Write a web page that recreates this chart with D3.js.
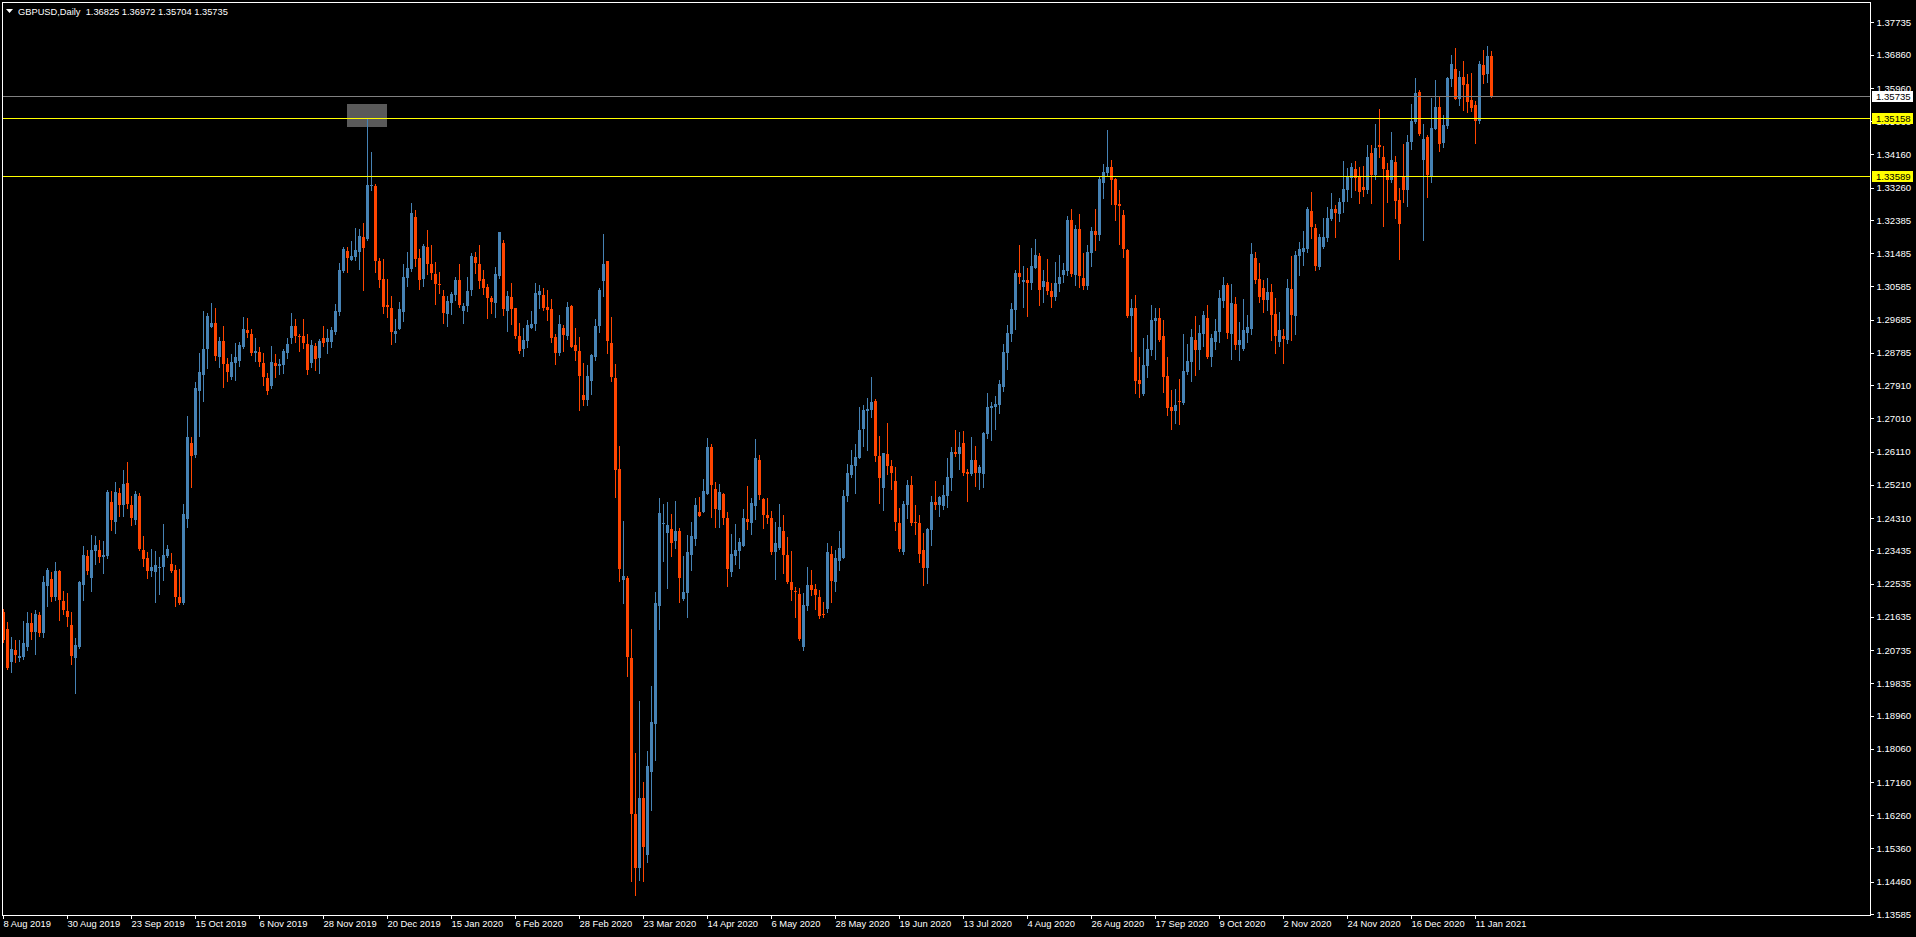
<!DOCTYPE html>
<html><head><meta charset="utf-8">
<script src="https://cdn.jsdelivr.net/npm/d3@7"></script>
<style>html,body{margin:0;padding:0;background:#000;overflow:hidden}svg{display:block}</style>
</head><body>
<svg id="c" width="1916" height="937"></svg>
<script>
// ---- data ----
const symbol = "GBPUSD,Daily";
const lastBar = [1.36825, 1.36972, 1.35704, 1.35735];
const dateLabels = ["8 Aug 2019","30 Aug 2019","23 Sep 2019","15 Oct 2019","6 Nov 2019","28 Nov 2019","20 Dec 2019","15 Jan 2020","6 Feb 2020","28 Feb 2020","23 Mar 2020","14 Apr 2020","6 May 2020","28 May 2020","19 Jun 2020","13 Jul 2020","4 Aug 2020","26 Aug 2020","17 Sep 2020","9 Oct 2020","2 Nov 2020","24 Nov 2020","16 Dec 2020","11 Jan 2021"];
const dateLabelBars = [0,16,32,48,64,80,96,112,128,144,160,176,192,208,224,240,256,272,288,304,320,336,352,368];
const priceTicks = [1.37735,1.36860,1.35960,1.35060,1.34160,1.33260,1.32385,1.31485,1.30585,1.29685,1.28785,1.27910,1.27010,1.26110,1.25210,1.24310,1.23435,1.22535,1.21635,1.20735,1.19835,1.18960,1.18060,1.17160,1.16260,1.15360,1.14460,1.13585];
const bidPrice = 1.35735;
const levelPrices = [1.35158, 1.33589];
const boxBars = [86, 96];
const boxPrices = [1.3553, 1.3490];

const opens = [1.2177,1.2130,1.2041,1.2074,1.2053,1.2054,1.2082,1.2147,1.2123,1.2168,1.2120,1.2248,1.2266,1.2217,1.2288,1.2206,1.2179,1.2141,1.2052,1.2082,1.2250,1.2328,1.2269,1.2342,1.2344,1.2326,1.2328,1.2474,1.2420,1.2499,1.2466,1.2526,1.2466,1.2426,1.2491,1.2344,1.2323,1.2288,1.2285,1.2296,1.2298,1.2328,1.2307,1.2290,1.2217,1.2201,1.2428,1.2634,1.2602,1.2775,1.2818,1.2889,1.2949,
1.2959,1.2867,1.2911,1.2848,1.2813,1.2851,1.2856,1.2894,1.2940,1.2930,1.2878,1.2881,1.2851,1.2810,1.2789,1.2851,1.2843,1.2846,1.2878,1.2919,1.2951,1.2924,1.2924,1.2903,1.2851,1.2897,1.2865,1.2919,1.2908,1.2908,1.2935,1.2989,1.3100,1.3154,1.3130,1.3138,1.3152,1.3192,1.3187,1.3331,1.3331,1.3127,1.3079,1.3008,1.3000,1.2930,1.2943,1.2989,1.3081,1.3106,1.3247,1.3135,1.3079,
1.3165,1.3119,1.3093,1.3064,1.3033,1.2985,1.3014,1.3035,1.3075,1.2991,1.3005,1.3048,1.3138,1.3119,1.3079,1.3056,1.3028,1.3014,1.3086,1.3175,1.2991,1.3030,1.2999,1.2924,1.2889,1.2912,1.2947,1.2957,1.3034,1.3035,1.3003,1.2997,1.2921,1.2879,1.2946,1.2924,1.3005,1.2899,1.2883,1.2765,1.2752,1.2802,1.2867,1.2951,1.3073,1.3127,1.2905,1.2811,1.2564,1.2264,1.2269,1.2052,1.1629,1.1484,
1.1673,1.1519,1.1742,1.1872,1.2194,1.2415,1.2391,1.2402,1.2370,1.2396,1.2212,1.2229,1.2331,1.2374,1.2447,1.2447,1.2497,1.2624,1.2510,1.2453,1.2497,1.2432,1.2285,1.2328,1.2342,1.2356,1.2429,1.2418,1.2464,1.2588,1.2483,1.2439,1.2432,1.2339,1.2350,1.2396,1.2331,1.2258,1.2234,1.2226,1.2082,1.2194,1.2250,1.2240,1.2218,1.2172,1.2186,1.2334,1.2258,1.2315,1.2323,1.2491,1.2548,
1.2572,1.2594,1.2672,1.2721,1.2724,1.2748,1.2599,1.2512,1.2605,1.2572,1.2531,1.2418,1.2339,1.2466,1.2521,1.2420,1.2418,1.2344,1.2296,1.2399,1.2474,1.2466,1.2464,1.2491,1.2540,1.2610,1.2605,1.2634,1.2556,1.2550,1.2588,1.2553,1.2550,1.2659,1.2729,1.2732,1.2737,1.2786,1.2878,1.2930,1.2995,1.3095,1.3070,1.3076,1.3068,1.3108,1.3141,1.3057,1.3070,1.3046,1.3030,1.3065,1.3089,
1.3100,1.3239,1.3090,1.3214,1.3081,1.3060,1.3149,1.3209,1.3198,1.3339,1.3366,1.3382,1.3350,1.3282,1.3252,1.3157,1.2978,1.3000,1.2805,1.2767,1.2843,1.2886,1.2965,1.2973,1.2924,1.2816,1.2732,1.2721,1.2748,1.2743,1.2827,1.2854,1.2913,1.2886,1.2930,1.2973,1.2867,1.2908,1.2935,1.3019,1.3062,1.2930,1.3011,1.2900,1.2889,1.2932,1.2943,1.3135,1.3079,1.3054,1.3022,1.3043,1.2984,
1.2908,1.2924,1.2913,1.3052,1.2978,1.3141,1.3152,1.3160,1.3263,1.3217,1.3111,1.3165,1.3190,1.3241,1.3268,1.3255,1.3287,1.3320,1.3352,1.3377,1.3355,1.3328,1.3320,1.3420,1.3360,1.3442,1.3409,1.3374,1.3347,1.3396,1.3293,1.3358,1.3320,1.3450,1.3504,1.3585,1.3401,1.3463,1.3355,1.3485,1.3545,1.3447,1.3493,1.3620,1.3648,1.3566,1.3626,1.3607,1.3564,1.3550,1.3507,1.3658,1.3634,1.36825];
const highs = [1.2184,1.2149,1.2109,1.2101,1.2102,1.2152,1.2176,1.2174,1.2182,1.2176,1.2274,1.2295,1.2286,1.2312,1.2290,1.2233,1.2228,1.2176,1.2106,1.2260,1.2355,1.2344,1.2385,1.2382,1.2372,1.2369,1.2507,1.2504,1.2529,1.2512,1.2561,1.2583,1.2491,1.2504,1.2499,1.2382,1.2339,1.2347,1.2342,1.2326,1.2415,1.2358,1.2336,1.2304,1.2293,1.2469,1.2708,1.2651,1.2800,1.2878,1.2992,1.2987,1.3014,
1.3000,1.2922,1.2951,1.2865,1.2875,1.2905,1.2908,1.2976,1.2973,1.2943,1.2919,1.2894,1.2878,1.2824,1.2897,1.2875,1.2862,1.2889,1.2919,1.2987,1.2970,1.2930,1.2970,1.2930,1.2913,1.2905,1.2916,1.2951,1.2943,1.2949,1.3011,1.3122,1.3165,1.3165,1.3182,1.3217,1.3214,1.3230,1.3516,1.3423,1.3336,1.3135,1.3133,1.3079,1.3033,1.2970,1.3016,1.3119,1.3152,1.3285,1.3266,1.3160,1.3173,
1.3211,1.3171,1.3126,1.3097,1.3048,1.3033,1.3044,1.3083,1.3119,1.3014,1.3084,1.3150,1.3152,1.3172,1.3104,1.3064,1.3033,1.3112,1.3207,1.3184,1.3046,1.3069,1.3000,1.2959,1.2945,1.2967,1.2991,1.3069,1.3062,1.3054,1.3048,1.3025,1.2929,1.2981,1.2953,1.3017,1.3008,1.2946,1.2922,1.2850,1.2847,1.2875,1.2970,1.3054,1.3200,1.3127,1.2976,1.2848,1.2627,1.2424,1.2274,1.2131,1.1795,1.1935,
1.1717,1.1800,1.1977,1.2231,1.2486,1.2469,1.2475,1.2442,1.2478,1.2404,1.2328,1.2385,1.2421,1.2486,1.2489,1.2537,1.2648,1.2631,1.2529,1.2523,1.2500,1.2447,1.2388,1.2415,1.2377,1.2456,1.2518,1.2486,1.2645,1.2602,1.2486,1.2486,1.2450,1.2421,1.2469,1.2439,1.2380,1.2342,1.2244,1.2241,1.2229,1.2299,1.2291,1.2252,1.2237,1.2204,1.2364,1.2356,1.2345,1.2396,1.2507,1.2577,1.2616,
1.2633,1.2732,1.2737,1.2756,1.2813,1.2754,1.2653,1.2607,1.2689,1.2588,1.2569,1.2458,1.2477,1.2534,1.2545,1.2466,1.2439,1.2391,1.2404,1.2491,1.2531,1.2491,1.2521,1.2594,1.2623,1.2670,1.2664,1.2667,1.2564,1.2651,1.2626,1.2575,1.2664,1.2770,1.2745,1.2762,1.2805,1.2903,1.2954,1.3014,1.3103,1.3171,1.3114,1.3108,1.3163,1.3187,1.3149,1.3103,1.3133,1.3068,1.3125,1.3144,1.3122,
1.3249,1.3268,1.3225,1.3255,1.3149,1.3171,1.3219,1.3268,1.3358,1.3390,1.3482,1.3401,1.3352,1.3320,1.3265,1.3160,1.3024,1.3035,1.2867,1.2919,1.2927,1.3008,1.2999,1.2999,1.2968,1.2867,1.2778,1.2781,1.2808,1.2930,1.2902,1.2943,1.2978,1.2954,1.2992,1.3008,1.2930,1.2970,1.3049,1.3084,1.3068,1.3065,1.3030,1.2962,1.3024,1.2981,1.3176,1.3152,1.3122,1.3076,1.3081,1.3065,1.3027,
1.2989,1.2943,1.3079,1.3141,1.3154,1.3179,1.3209,1.3274,1.3314,1.3228,1.3201,1.3244,1.3274,1.3312,1.3279,1.3298,1.3398,1.3379,1.3393,1.3398,1.3382,1.3385,1.3442,1.3442,1.3499,1.3539,1.3439,1.3393,1.3477,1.3412,1.3325,1.3444,1.3469,1.3553,1.3623,1.3591,1.3499,1.3469,1.3569,1.3618,1.3572,1.3523,1.3626,1.3685,1.3704,1.3642,1.3669,1.3634,1.3637,1.3561,1.3669,1.3699,1.3710,1.36972];
const lows = [1.2096,1.2023,1.2014,1.2042,1.2045,1.2049,1.2074,1.2104,1.2063,1.2112,1.2110,1.2193,1.2206,1.2209,1.2155,1.2171,1.2139,1.2036,1.1958,1.2080,1.2209,1.2279,1.2233,1.2307,1.2312,1.2282,1.2323,1.2399,1.2391,1.2437,1.2437,1.2458,1.2412,1.2415,1.2344,1.2301,1.2269,1.2274,1.2204,1.2225,1.2263,1.2326,1.2285,1.2193,1.2198,1.2199,1.2407,1.2515,1.2597,1.2653,1.2748,1.2838,1.2949,
1.2859,1.2840,1.2786,1.2802,1.2808,1.2805,1.2843,1.2892,1.2922,1.2873,1.2856,1.2843,1.2791,1.2767,1.2783,1.2813,1.2821,1.2824,1.2865,1.2905,1.2908,1.2883,1.2892,1.2821,1.2840,1.2832,1.2824,1.2897,1.2878,1.2894,1.2930,1.2981,1.3098,1.3098,1.3130,1.3130,1.3106,1.3049,1.3185,1.3320,1.3098,1.3057,1.2987,1.2976,1.2903,1.2908,1.2943,1.2965,1.3060,1.3100,1.3114,1.3052,1.3060,
1.3092,1.3079,1.3011,1.3042,1.2959,1.2951,1.2984,1.3022,1.3003,1.2960,1.2993,1.3034,1.3095,1.3055,1.3039,1.2974,1.2986,1.2977,1.3080,1.2982,1.2939,1.2956,1.2919,1.2879,1.2871,1.2894,1.2946,1.2941,1.3000,1.2994,1.2968,1.2907,1.2849,1.2872,1.2883,1.2915,1.2894,1.2860,1.2725,1.2737,1.2738,1.2767,1.2860,1.2935,1.3033,1.2878,1.2803,1.2488,1.2260,1.2201,1.2002,1.1449,1.1409,1.1450,
1.1447,1.1500,1.1639,1.1777,1.2131,1.2315,1.2241,1.2328,1.2349,1.2204,1.2209,1.2164,1.2289,1.2359,1.2436,1.2447,1.2497,1.2434,1.2407,1.2407,1.2415,1.2247,1.2275,1.2306,1.2296,1.2356,1.2402,1.2388,1.2429,1.2483,1.2404,1.2418,1.2334,1.2266,1.2348,1.2283,1.2255,1.2209,1.2164,1.2101,1.2074,1.2183,1.2223,1.2186,1.2161,1.2164,1.2177,1.2204,1.2234,1.2291,1.2323,1.2478,1.2542,
1.2498,1.2594,1.2626,1.2615,1.2705,1.2586,1.2472,1.2453,1.2550,1.2510,1.2399,1.2342,1.2334,1.2431,1.2412,1.2388,1.2312,1.2250,1.2255,1.2358,1.2456,1.2436,1.2456,1.2461,1.2507,1.2599,1.2564,1.2548,1.2477,1.2548,1.2518,1.2510,1.2515,1.2648,1.2642,1.2672,1.2716,1.2775,1.2835,1.2911,1.2943,1.3068,1.3003,1.2978,1.3052,1.3108,1.3008,1.3016,1.3038,1.3003,1.3022,1.3046,1.3070,
1.3090,1.3088,1.3062,1.3057,1.3052,1.3052,1.3114,1.3157,1.3184,1.3298,1.3358,1.3282,1.3239,1.3173,1.3138,1.2975,1.2884,1.2770,1.2759,1.2765,1.2813,1.2873,1.2862,1.2911,1.2773,1.2710,1.2672,1.2689,1.2686,1.2741,1.2821,1.2802,1.2819,1.2835,1.2897,1.2865,1.2843,1.2889,1.2908,1.3003,1.2919,1.2862,1.2889,1.2859,1.2887,1.2908,1.2930,1.3068,1.3016,1.2989,1.2995,1.2913,1.2878,
1.2897,1.2851,1.2905,1.2913,1.2930,1.3089,1.3117,1.3152,1.3190,1.3103,1.3106,1.3163,1.3182,1.3238,1.3192,1.3236,1.3260,1.3290,1.3301,1.3320,1.3284,1.3304,1.3312,1.3284,1.3350,1.3409,1.3222,1.3287,1.3341,1.3244,1.3133,1.3287,1.3276,1.3431,1.3501,1.3469,1.3184,1.3301,1.3341,1.3485,1.3425,1.3436,1.3488,1.3601,1.3566,1.3550,1.3536,1.3531,1.3534,1.3447,1.3501,1.3610,1.3612,1.35704];
const closes = [1.2101,1.2025,1.2076,1.2060,1.2058,1.2093,1.2147,1.2123,1.2171,1.2120,1.2258,1.2290,1.2217,1.2288,1.2210,1.2182,1.2163,1.2057,1.2087,1.2258,1.2331,1.2288,1.2344,1.2358,1.2326,1.2331,1.2502,1.2426,1.2502,1.2466,1.2523,1.2469,1.2431,1.2496,1.2347,1.2320,1.2288,1.2298,1.2304,1.2298,1.2331,1.2347,1.2288,1.2217,1.2201,1.2442,1.2651,1.2599,1.2783,1.2827,1.2889,1.2978,1.2959,
1.2870,1.2911,1.2848,1.2827,1.2854,1.2867,1.2900,1.2943,1.2932,1.2878,1.2883,1.2854,1.2813,1.2775,1.2854,1.2843,1.2848,1.2883,1.2903,1.2951,1.2924,1.2922,1.2905,1.2832,1.2900,1.2862,1.2911,1.2905,1.2919,1.2940,1.2992,1.3103,1.3160,1.3135,1.3141,1.3157,1.3195,1.3163,1.3333,1.3333,1.3127,1.3076,1.3003,1.3003,1.2935,1.2938,1.2997,1.3084,1.3108,1.3257,1.3133,1.3076,1.3168,
1.3118,1.3094,1.3066,1.3062,1.2986,1.3019,1.3038,1.3075,1.3009,1.3006,1.3046,1.3141,1.3123,1.3072,1.3054,1.3026,1.3016,1.3092,1.3205,1.2997,1.3033,1.2997,1.2924,1.2883,1.2913,1.2954,1.2957,1.3040,1.3046,1.3000,1.2994,1.2919,1.2879,1.2957,1.2927,1.3003,1.2895,1.2883,1.2815,1.2751,1.2815,1.2872,1.2951,1.3049,1.3119,1.2912,1.2813,1.2560,1.2294,1.2274,1.2055,1.1629,1.1482,1.1673,
1.1539,1.1760,1.1879,1.2201,1.2445,1.2418,1.2413,1.2364,1.2396,1.2269,1.2231,1.2339,1.2382,1.2467,1.2436,1.2504,1.2624,1.2521,1.2456,1.2501,1.2432,1.2294,1.2334,1.2345,1.2367,1.2432,1.2421,1.2472,1.2594,1.2494,1.2439,1.2432,1.2339,1.2364,1.2407,1.2331,1.2258,1.2237,1.2231,1.2104,1.2196,1.2250,1.2237,1.2223,1.2166,1.2169,1.2339,1.2261,1.2323,1.2350,1.2491,1.2554,1.2575,
1.2596,1.2670,1.2724,1.2726,1.2745,1.2599,1.2540,1.2607,1.2572,1.2553,1.2420,1.2347,1.2469,1.2521,1.2418,1.2418,1.2334,1.2296,1.2401,1.2474,1.2466,1.2488,1.2493,1.2542,1.2610,1.2605,1.2623,1.2553,1.2550,1.2588,1.2553,1.2569,1.2661,1.2732,1.2735,1.2740,1.2794,1.2881,1.2932,1.2997,1.3095,1.3084,1.3076,1.3068,1.3114,1.3144,1.3049,1.3073,1.3046,1.3030,1.3068,1.3084,1.3103,
1.3239,1.3092,1.3214,1.3087,1.3060,1.3152,1.3209,1.3198,1.3350,1.3368,1.3382,1.3347,1.3279,1.3276,1.3160,1.2978,1.3000,1.2802,1.2794,1.2846,1.2889,1.2968,1.2973,1.2913,1.2813,1.2729,1.2721,1.2737,1.2745,1.2829,1.2857,1.2922,1.2886,1.2932,1.2981,1.2867,1.2919,1.2938,1.3027,1.3062,1.2932,1.3014,1.2900,1.2913,1.2941,1.2949,1.3146,1.3076,1.3030,1.3022,1.3043,1.2981,1.2924,
1.2940,1.2916,1.3054,1.2981,1.3144,1.3160,1.3163,1.3268,1.3220,1.3114,1.3192,1.3192,1.3244,1.3268,1.3257,1.3287,1.3322,1.3358,1.3382,1.3352,1.3314,1.3320,1.3409,1.3360,1.3434,1.3436,1.3377,1.3347,1.3401,1.3290,1.3228,1.3320,1.3450,1.3507,1.3582,1.3471,1.3458,1.3360,1.3488,1.3545,1.3444,1.3496,1.3623,1.3661,1.3566,1.3626,1.3604,1.3558,1.3542,1.3507,1.3661,1.3631,1.3683,1.35735];

// ---- layout ----
const W = 1916, H = 937;
const plot = {left: 2, right: 1870, top: 2, bottom: 915};
const bull = "#4682B4", bear = "#FF4500";
const svg = d3.select("#c");
svg.append("rect").attr("width", W).attr("height", H).attr("fill", "#000");

const n = opens.length;
const x = d3.scaleLinear().domain([0, n - 1]).range([3, 3 + 4 * (n - 1)]);
const y = d3.scaleLinear().domain([1.13585, 1.3596]).range([914, 88]);

svg.append("defs").append("clipPath").attr("id", "pc")
  .append("rect").attr("x", plot.left + 1).attr("y", plot.top + 1)
  .attr("width", plot.right - plot.left - 1).attr("height", plot.bottom - plot.top - 1);

const g = svg.append("g").attr("clip-path", "url(#pc)");

// highlight box
g.append("rect")
  .attr("x", Math.round(x(boxBars[0]))).attr("y", Math.round(y(boxPrices[0])))
  .attr("width", Math.round(x(boxBars[1]) - x(boxBars[0]))).attr("height", Math.round(y(boxPrices[1]) - y(boxPrices[0])))
  .attr("fill", "#5a5a5a");

// candles
const data = d3.range(n).map(i => ({i, o: opens[i], h: highs[i], l: lows[i], c: closes[i]}));
const cg = g.append("g").attr("shape-rendering", "crispEdges");
cg.selectAll(".w").data(data).join("rect")
  .attr("x", d => Math.round(x(d.i)))
  .attr("y", d => Math.round(y(d.h)))
  .attr("width", 1)
  .attr("height", d => Math.max(1, Math.round(y(d.l)) - Math.round(y(d.h)) + 1))
  .attr("fill", d => d.c >= d.o ? bull : bear);
cg.selectAll(".b").data(data).join("rect")
  .attr("x", d => Math.round(x(d.i)) - 1)
  .attr("y", d => Math.round(y(Math.max(d.o, d.c))))
  .attr("width", 3)
  .attr("height", d => Math.max(1, Math.round(y(Math.min(d.o, d.c))) - Math.round(y(Math.max(d.o, d.c)))))
  .attr("fill", d => d.c >= d.o ? bull : bear);

// horizontal lines
const lg = svg.append("g").attr("shape-rendering", "crispEdges");
lg.append("line").attr("x1", plot.left).attr("x2", plot.right)
  .attr("y1", Math.round(y(bidPrice)) + 0.5).attr("y2", Math.round(y(bidPrice)) + 0.5)
  .attr("stroke", "#808080");
levelPrices.forEach(p => {
  lg.append("line").attr("x1", plot.left).attr("x2", plot.right)
    .attr("y1", Math.round(y(p)) + 0.5).attr("y2", Math.round(y(p)) + 0.5)
    .attr("stroke", "#FFFF00");
});

// frame
svg.append("rect").attr("x", plot.left + 0.5).attr("y", plot.top + 0.5)
  .attr("width", plot.right - plot.left).attr("height", plot.bottom - plot.top)
  .attr("fill", "none").attr("stroke", "#fff").attr("shape-rendering", "crispEdges");

const font = "'Liberation Sans', Arial, sans-serif";

// right price axis
const ya = d3.axisRight(y).tickValues(priceTicks).tickSize(3).tickPadding(3)
  .tickFormat(d3.format(".5f"));
const yag = svg.append("g").attr("transform", `translate(${plot.right + 0.5},0)`).call(ya);
yag.select(".domain").remove();
yag.selectAll(".tick line").attr("stroke", "#fff").attr("shape-rendering", "crispEdges");
yag.selectAll(".tick text").attr("fill", "#fff").attr("font-family", font).attr("font-size", 9.6);

// bottom date axis
const xa = d3.axisBottom(x).tickValues(dateLabelBars).tickSize(3).tickPadding(2)
  .tickFormat((d, i) => dateLabels[i]);
const xag = svg.append("g").attr("transform", `translate(0,${plot.bottom + 0.5})`).call(xa);
xag.select(".domain").remove();
xag.selectAll(".tick line").attr("stroke", "#fff").attr("shape-rendering", "crispEdges");
xag.selectAll(".tick text").attr("fill", "#fff").attr("font-family", font).attr("font-size", 9.4)
  .attr("text-anchor", "start").attr("dx", 0).attr("x", 0);

// price tags
function tag(p, bg) {
  const yy = Math.round(y(p));
  svg.append("rect").attr("x", plot.right + 2).attr("y", yy - 5).attr("width", 41).attr("height", 11)
    .attr("fill", bg).attr("shape-rendering", "crispEdges");
  svg.append("text").attr("x", plot.right + 6).attr("y", yy + 4).text(d3.format(".5f")(p))
    .attr("fill", "#000").attr("font-family", font).attr("font-size", 9.6);
}
tag(bidPrice, "#fff");
levelPrices.forEach(p => tag(p, "#FFFF00"));

// header
svg.append("path").attr("d", "M6,9 L13,9 L9.5,13 Z").attr("fill", "#fff");
svg.append("text").attr("x", 18).attr("y", 15).attr("fill", "#fff")
  .attr("font-family", font).attr("font-size", 9.3)
  .text(symbol + "  " + lastBar.map(d3.format(".5f")).join(" "))
  .attr("xml:space", "preserve").style("white-space", "pre");
</script>
</body></html>
